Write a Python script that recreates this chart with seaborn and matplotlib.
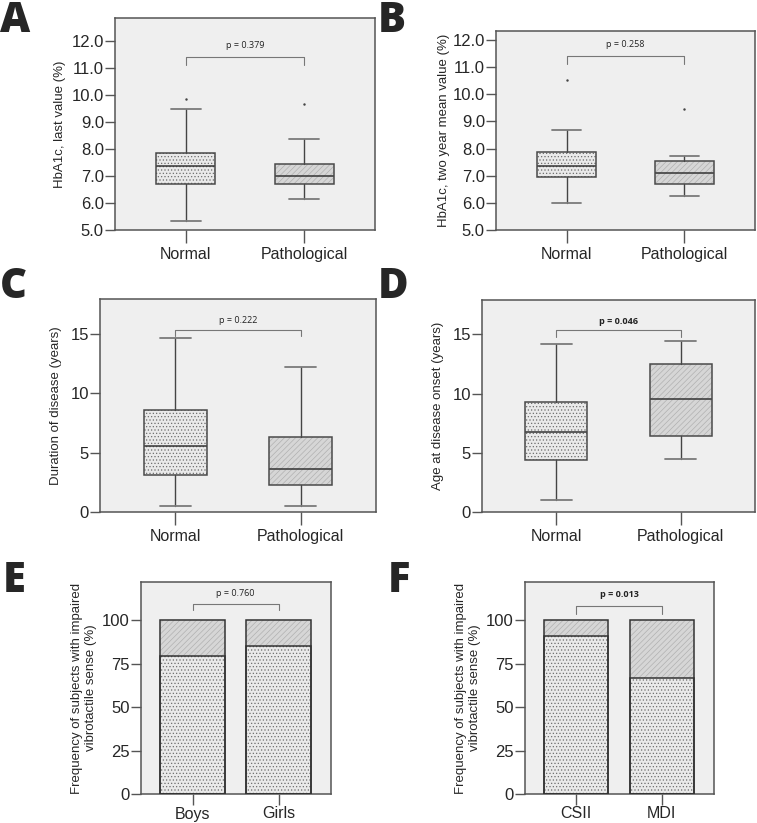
import matplotlib
matplotlib.use('Agg')
import matplotlib.pyplot as plt
import seaborn as sns
from matplotlib.patches import PathPatch, Rectangle

sns.set_style('ticks')
plt.rcParams['font.family'] = ['Liberation Sans', 'DejaVu Sans']
plt.rcParams['hatch.linewidth'] = 0.5

groups = ['Normal', 'Pathological']

# box stats: [low whisker, Q1, median, Q3, high whisker]
a_normal = [5.33, 6.71, 7.37, 7.86, 9.48]
a_normal_out = [9.86]
a_patho = [6.15, 6.71, 7.0, 7.44, 8.38]
a_patho_out = [9.68]

b_normal = [6.0, 6.95, 7.37, 7.88, 8.69]
b_normal_out = [10.54]
b_patho = [6.27, 6.69, 7.1, 7.53, 7.73]
b_patho_out = [9.44]

c_normal = [0.53, 3.14, 5.55, 8.61, 14.6]
c_patho = [0.48, 2.3, 3.62, 6.31, 12.22]

d_normal = [0.98, 4.43, 6.73, 9.25, 14.16]
d_patho = [4.49, 6.42, 9.53, 12.48, 14.47]

e_cats = ['Boys', 'Girls']
e_lower = [79.5, 85.0]
f_cats = ['CSII', 'MDI']
f_lower = [91.2, 66.6]
total = [100, 100]

p_a, p_b, p_c, p_d, p_e, p_f = 'p = 0.379', 'p = 0.258', 'p = 0.222', 'p = 0.046', 'p = 0.760', 'p = 0.013'

BG = '#efefef'
EDGE = '#4a4a4a'
STYLE_N = dict(face='#e9e9e9', hatch='.....', hc='#6e6e6e')
STYLE_P = dict(face='#d6d6d6', hatch='//////', hc='#b0b0b0')

W, H = 757, 823
fig = plt.figure(figsize=(W / 100, H / 100), dpi=100)


def make_ax(l, r, t, b, xtick_len=9, xpad=3):
    ax = fig.add_axes([l / W, 1 - b / H, (r - l) / W, (b - t) / H])
    ax.set_facecolor(BG)
    for s in ax.spines.values():
        s.set_color('#555555')
        s.set_linewidth(1.1)
    ax.tick_params(axis='y', length=7, width=1, color='#555555', labelsize=12, pad=1)
    ax.tick_params(axis='x', length=xtick_len, width=1, color='#555555', labelsize=11.5, pad=xpad)
    ax.set_xlim(-0.6, 1.6)
    return ax


def boxes(ax, normal, patho, outs=(None, None)):
    stats = []
    for vals, o in zip([normal, patho], outs):
        stats.append(dict(whislo=vals[0], q1=vals[1], med=vals[2], q3=vals[3],
                          whishi=vals[4], fliers=o if o else []))
    bp = ax.bxp(stats, positions=[0, 1], widths=0.5, patch_artist=True, capwidths=0.25,
                showfliers=True,
                medianprops=dict(color='#333333', lw=1.1),
                whiskerprops=dict(color='#444444', lw=1),
                capprops=dict(color='#7a7a7a', lw=1.3),
                flierprops=dict(marker='.', markersize=1.5, markerfacecolor='#444',
                                markeredgecolor='#444'))
    for patch, st in zip(bp['boxes'], [STYLE_N, STYLE_P]):
        patch.set_facecolor(st['face'])
        patch.set_edgecolor(st['hc'])
        patch.set_hatch(st['hatch'])
        patch.set_linewidth(0)
        ax.add_patch(PathPatch(patch.get_path(), fill=False, ec=EDGE, lw=1.1, zorder=2.5))
    ax.set_xticks([0, 1], groups)


def bracket(ax, y0, y1, yt, txt, bold=False):
    ax.plot([0, 0, 1, 1], [y0, y1, y1, y0], color='#777777', lw=0.8)
    ax.text(0.5, yt, txt, ha='center', va='center', fontsize=6.5,
            family=['Open Sans', 'DejaVu Sans'], weight='bold' if bold else 'normal',
            color='#222222')


def bars(ax, cats, lower):
    sns.barplot(x=cats, y=total, ax=ax, width=0.75, saturation=1, color=STYLE_P['face'])
    sns.barplot(x=cats, y=lower, ax=ax, width=0.75, saturation=1, color=STYLE_N['face'])
    pats = list(ax.patches)
    for i, p in enumerate(pats):
        st = STYLE_P if i < len(cats) else STYLE_N
        p.set_edgecolor(st['hc'])
        p.set_hatch(st['hatch'])
        p.set_linewidth(0)
        ax.add_patch(Rectangle(p.get_xy(), p.get_width(), p.get_height(), fill=False,
                               ec='#333333', lw=1.1, zorder=3))
    ax.set_xlim(-0.6, 1.61)
    ax.set_ylim(0, 122)
    ax.set_yticks([0, 25, 50, 75, 100])
    ax.set_ylabel('Frequency of subjects with impaired\nvibrotactile sense (%)', fontsize=9.5,
                  labelpad=4, linespacing=1.15)


# A
ax = make_ax(115, 375, 18, 230)
boxes(ax, a_normal, a_patho, (a_normal_out, a_patho_out))
ax.set_ylim(5, 12.85)
ax.set_yticks([5, 6, 7, 8, 9, 10, 11, 12], [f'{v:.1f}' for v in range(5, 13)])
ax.set_ylabel('HbA1c, last value (%)', fontsize=9.5, labelpad=4)
bracket(ax, 11.1, 11.42, 11.85, p_a)

# B
ax = make_ax(496, 755, 31, 230)
boxes(ax, b_normal, b_patho, (b_normal_out, b_patho_out))
ax.set_ylim(5, 12.33)
ax.set_yticks([5, 6, 7, 8, 9, 10, 11, 12], [f'{v:.1f}' for v in range(5, 13)])
ax.set_ylabel('HbA1c, two year mean value (%)', fontsize=9.5, labelpad=2)
bracket(ax, 11.1, 11.42, 11.85, p_b)

# C
ax = make_ax(100, 376, 299, 512)
boxes(ax, c_normal, c_patho)
ax.set_ylim(0, 17.9)
ax.set_yticks([0, 5, 10, 15])
ax.set_ylabel('Duration of disease (years)', fontsize=9.5, labelpad=6)
bracket(ax, 14.8, 15.33, 16.1, p_c)

# D
ax = make_ax(482, 755, 300, 512)
boxes(ax, d_normal, d_patho)
ax.set_ylim(0, 17.9)
ax.set_yticks([0, 5, 10, 15])
ax.set_ylabel('Age at disease onset (years)', fontsize=9.5, labelpad=6)
bracket(ax, 14.8, 15.33, 16.1, p_d, bold=True)

# E
ax = make_ax(141, 331, 582, 794, xtick_len=8, xpad=1)
bars(ax, e_cats, e_lower)
bracket(ax, 105.6, 109.2, 115.5, p_e)

# F
ax = make_ax(525, 714, 582, 794, xtick_len=8, xpad=1)
bars(ax, f_cats, f_lower)
bracket(ax, 103.8, 108.3, 114.6, p_f, bold=True)

for letter, x, y in [('A', 0, 0), ('B', 378, 0), ('C', 0, 266), ('D', 378, 266),
                     ('E', 3, 560), ('F', 388, 560)]:
    fig.text(x / W, 1 - y / H, letter, ha='left', va='top', fontsize=30,
             family=['Open Sans', 'DejaVu Sans'], weight='heavy')

fig.savefig('out.png', dpi=100)
